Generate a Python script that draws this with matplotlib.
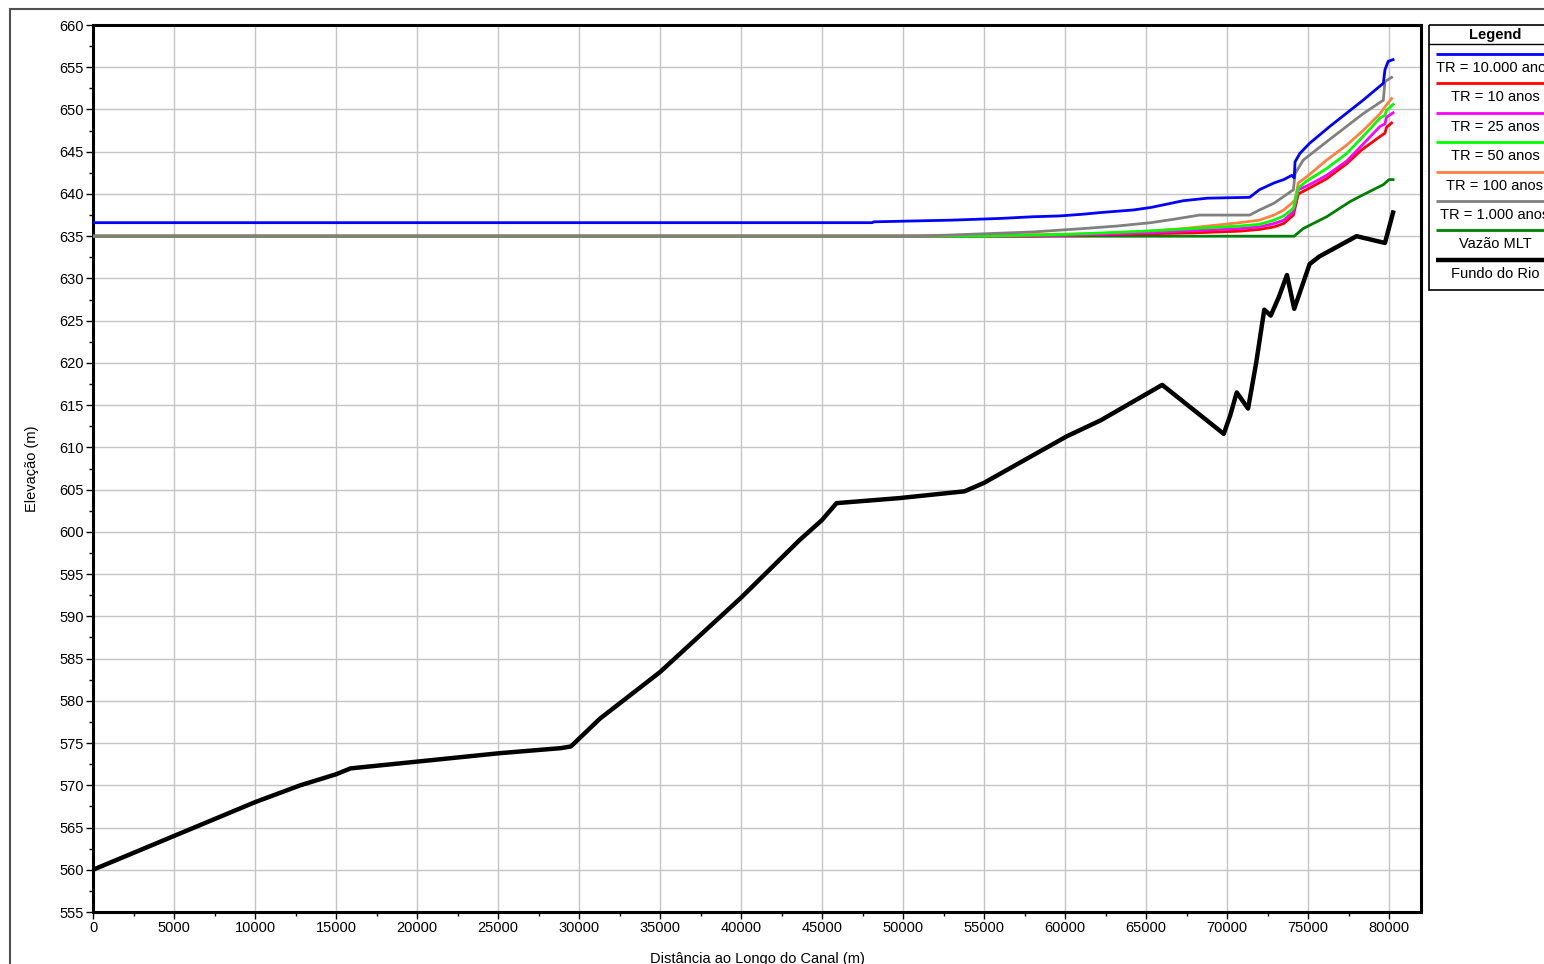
import matplotlib
matplotlib.use("Agg")
import matplotlib.pyplot as plt
from matplotlib.patches import Rectangle
from matplotlib.ticker import MultipleLocator

plt.rcParams['font.family'] = ['Liberation Sans Narrow', 'Liberation Sans', 'DejaVu Sans']

# Fundo do Rio (bed profile)
bed_x = [0, 5000, 10000, 12800, 15000, 15900, 20000, 25100, 28900, 29500, 31300, 35000, 40000,
         43600, 45000, 45900, 49800, 53800, 55000, 60100, 62200, 66000, 69800, 70200, 70600,
         71300, 71800, 72300, 72700, 73200, 73700, 74150, 75100, 75700, 78000, 79750, 80000, 80250]
bed_y = [560.0, 564.0, 568.0, 570.0, 571.3, 572.0, 572.8, 573.8, 574.4, 574.6, 577.9, 583.4, 592.2,
         599.0, 601.4, 603.4, 604.0, 604.8, 605.8, 611.3, 613.2, 617.4, 611.6, 613.8, 616.5,
         614.6, 620.0, 626.3, 625.6, 627.8, 630.4, 626.4, 631.7, 632.6, 635.0, 634.2, 636.0, 637.8]

# TR = 10.000 anos
tr10000_x = [0, 48100, 48200, 53000, 56000, 58000, 59700, 61100, 62200, 64200, 65300, 66300, 67300,
             68800, 71400, 72000, 72900, 73500, 74000, 74150, 74200, 74500, 75100, 76350, 78400,
             79650, 79750, 79950, 80250]
tr10000_y = [636.6, 636.6, 636.7, 636.9, 637.1, 637.3, 637.4, 637.6, 637.8, 638.1, 638.4, 638.8, 639.2,
             639.5, 639.6, 640.5, 641.3, 641.7, 642.2, 641.9, 643.8, 644.8, 646.0, 648.0, 651.1,
             653.1, 654.7, 655.7, 655.9]

# TR = 10 anos
tr10_x = [0, 58000, 63000, 68000, 70800, 72000, 72900, 73500, 74100, 74400, 75100, 76150, 77400,
          78300, 79450, 79750, 79850, 80160]
tr10_y = [635.0, 635.0, 635.2, 635.4, 635.6, 635.8, 636.1, 636.5, 637.5, 640.0, 640.7, 641.8, 643.6,
          645.2, 646.8, 647.2, 647.9, 648.4]

# TR = 25 anos
tr25_x = [0, 56000, 60000, 65000, 70800, 72000, 72900, 73500, 74100, 74400, 75100, 76150, 77400,
          78400, 79450, 79750, 79850, 80250]
tr25_y = [635.0, 635.0, 635.1, 635.4, 635.9, 636.1, 636.5, 636.9, 637.9, 640.5, 641.1, 642.2, 643.9,
          645.9, 648.0, 648.3, 649.1, 649.6]

# TR = 50 anos
tr50_x = [0, 55000, 60000, 65000, 70800, 72000, 72900, 73500, 74100, 74400, 74900, 76150, 77400,
          78400, 79450, 79750, 79850, 80250]
tr50_y = [635.0, 635.0, 635.2, 635.6, 636.2, 636.4, 636.9, 637.4, 638.3, 640.7, 641.5, 643.0, 644.8,
          646.8, 649.0, 649.3, 649.9, 650.6]

# TR = 100 anos
tr100_x = [0, 50900, 55000, 62200, 65300, 67300, 70800, 72000, 72900, 73500, 74000, 74200, 74400,
           74900, 76150, 77400, 78400, 79450, 79750, 80160]
tr100_y = [635.0, 635.0, 635.1, 635.3, 635.6, 635.9, 636.6, 636.9, 637.5, 638.1, 638.9, 639.3, 641.3,
           642.0, 644.0, 645.8, 647.5, 649.5, 650.3, 651.3]

# TR = 1.000 anos
tr1000_x = [0, 50900, 55200, 58000, 61100, 63200, 65300, 66700, 68300, 71400, 72000, 72900, 73500,
            74100, 74200, 74700, 75500, 76300, 78400, 79650, 79750, 80160]
tr1000_y = [635.0, 635.0, 635.3, 635.5, 635.9, 636.2, 636.6, 637.0, 637.5, 637.5, 638.1, 638.9, 639.7,
            640.5, 642.4, 644.0, 645.2, 646.4, 649.5, 651.1, 653.3, 653.8]

# Vazão MLT
mlt_x = [0, 74150, 74700, 76150, 77600, 78400, 79650, 80000, 80250]
mlt_y = [635.0, 635.0, 635.9, 637.3, 639.1, 639.9, 641.1, 641.7, 641.7]

labels = ["TR = 10.000 anos", "TR = 10 anos", "TR = 25 anos", "TR = 50 anos",
          "TR = 100 anos", "TR = 1.000 anos", "Vazão MLT", "Fundo do Rio"]
colors = ["#0000FF", "#FF0000", "#FF00FF", "#00FF00", "#FF8040", "#808080", "#008000", "#000000"]
widths = [2.0, 2.0, 2.0, 2.0, 2.0, 2.0, 2.0, 3.2]
series = [(tr10000_x, tr10000_y), (tr10_x, tr10_y), (tr25_x, tr25_y), (tr50_x, tr50_y),
          (tr100_x, tr100_y), (tr1000_x, tr1000_y), (mlt_x, mlt_y), (bed_x, bed_y)]
zorders = [8, 4, 5, 6, 3, 7, 2, 9]

W, H = 1544, 964
fig = plt.figure(figsize=(W / 100, H / 100), dpi=100)
ax = fig.add_axes([93 / W, 1 - 912 / H, (1421 - 93) / W, (912 - 25) / H])

for (xs, ys), c, lw, z in zip(series, colors, widths, zorders):
    ax.plot(xs, ys, color=c, lw=lw, zorder=z, solid_joinstyle='round')

ax.set_xlim(0, 81975)
ax.set_ylim(555, 660)
ax.xaxis.set_major_locator(MultipleLocator(5000))
ax.xaxis.set_minor_locator(MultipleLocator(2500))
ax.yaxis.set_major_locator(MultipleLocator(5))
ax.yaxis.set_minor_locator(MultipleLocator(2.5))
ax.grid(True, which='major', color='#c4c4c4', lw=1.0, zorder=0)
ax.set_axisbelow(True)
for s in ax.spines.values():
    s.set_linewidth(2.2)
ax.tick_params(which='major', length=5, width=1, labelsize=10.5, pad=1.5)
ax.tick_params(which='minor', length=3, width=1)
ax.set_xlabel("Distância ao Longo do Canal (m)", fontsize=10.5, labelpad=12)
ax.set_ylabel("Elevação (m)", fontsize=10.5, labelpad=15)

# outer frame
fig.add_artist(Rectangle((10 / W, -0.1), 1.2, 1 - 9 / H + 0.1, transform=fig.transFigure,
                         fill=False, ec='#505050', lw=1.5))

# legend box drawn beside the plot
lax = fig.add_axes([1429 / W, 1 - 290 / H, 140 / W, 265 / H])
lax.set_xlim(0, 140)
lax.set_ylim(265, 0)
lax.axis('off')
lax.add_patch(Rectangle((0, 0), 140, 265, fill=False, ec='black', lw=1.2, clip_on=False))
lax.plot([0, 140], [19, 19], color='black', lw=1.0, clip_on=False)
lax.text(66, 9.5, "Legend", ha='center', va='center', fontsize=10.5, fontweight='bold')
for i, (lab, c, lw) in enumerate(zip(labels, colors, widths)):
    yl = 29 + i * 29.4
    lax.plot([7, 140], [yl, yl], color=c, lw=lw, clip_on=False, solid_capstyle='butt')
    lax.text(66, yl + 14, lab, ha='center', va='center', fontsize=10.5, clip_on=False)

fig.savefig("out.png", dpi=100)
